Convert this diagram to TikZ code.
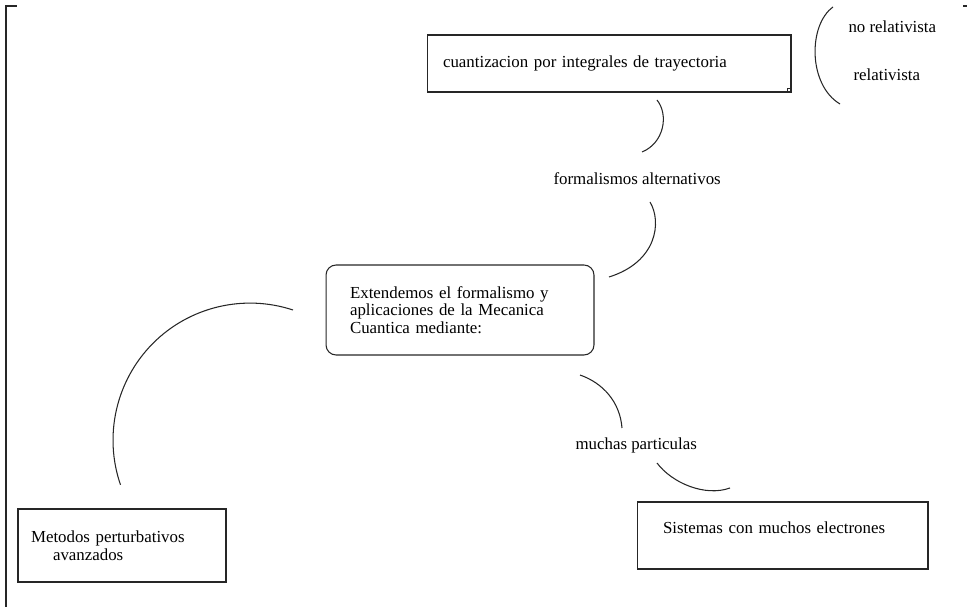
\documentclass[tikz,border=0pt]{standalone}
\usepackage{fontspec}
\setmainfont{Liberation Serif}
\usepackage{tikz}
\usetikzlibrary{positioning}

\begin{document}
\begin{tikzpicture}[x=0.02cm, y=-0.02cm, line width=0.6pt, color=black!85,
        every node/.style={font=\fontsize{9.6}{10}\selectfont, text=black},
        box/.style={draw, rectangle, align=left, inner ysep=0pt},
        roundbox/.style={box, rounded corners=0.2cm},
        lbl/.style={anchor=west, inner sep=0pt}]
        \useasboundingbox (0,0) rectangle (967,607);
        %\draw (0,0) rectangle (967,607);
        \draw (6,607) -- (6,6) -- (17,6);
        \draw (963,6) -- (967,6);

        \node[box, text width=6.64cm, inner xsep=0.32cm, minimum height=1.14cm] (cuant) at (609,63.5) {cuantizacion por integrales de trayectoria};
        \draw ([shift={(-4,-4)}]cuant.south east) rectangle (cuant.south east);
        \node[lbl] (norel) at (848,27) {no relativista};
        \node[lbl] (rel) at (853,75) {relativista};

        \node[lbl] (formal) at (553,179) {formalismos alternativos};
        \node[roundbox, text width=4.4cm, inner xsep=0.48cm, minimum height=1.8cm] (ext) at (460,310) {Extendemos el formalismo y\\aplicaciones de la Mecanica\\Cuantica mediante:};

        \node[box, text width=3.64cm, inner xsep=0.26cm, minimum height=1.46cm] (metodos) at (122,545.5) {Metodos perturbativos\\\hspace*{0.44cm}avanzados};
        \node[lbl] (muchas) at (575,445) {muchas particulas};
        \node[box, text width=4.78cm, inner xsep=0.52cm, minimum height=1.34cm, text height=0.22cm, text depth=0.3cm] (sist) at (782.5,535.5) {Sistemas con muchos electrones};

        % free ends of the arcs
        \coordinate (r1) at (833,7);
        \coordinate (r2) at (840,104);
        \coordinate (f1) at (657,100);
        \coordinate (f2) at (642,152);
        \coordinate (f3) at (650,202);
        \coordinate (f4) at (609,277);
        \coordinate (m1) at (293,310);
        \coordinate (m2) at (152.5,343.8);
        \coordinate (m3) at (120.5,484.8);
        \coordinate (p1) at (580,375);
        \coordinate (p2) at (622,428);
        \coordinate (p3) at (657,463);
        \coordinate (p4) at (730,488);

        \draw (r1) .. controls (808,25) and (808,85) .. (r2);
        \draw (f1) .. controls (669,115) and (664,143) .. (f2);
        \draw (f3) .. controls (662,222) and (657,262) .. (f4);
        \draw (m1) .. controls (243.6,293.7) and (189,306.8) .. (m2)
                   .. controls (116,380.8) and (103.5,435.7) .. (m3);
        \draw (p1) .. controls (603,383) and (620,402) .. (p2);
        \draw (p3) .. controls (672,483) and (705,497) .. (p4);
\end{tikzpicture}
\end{document}
